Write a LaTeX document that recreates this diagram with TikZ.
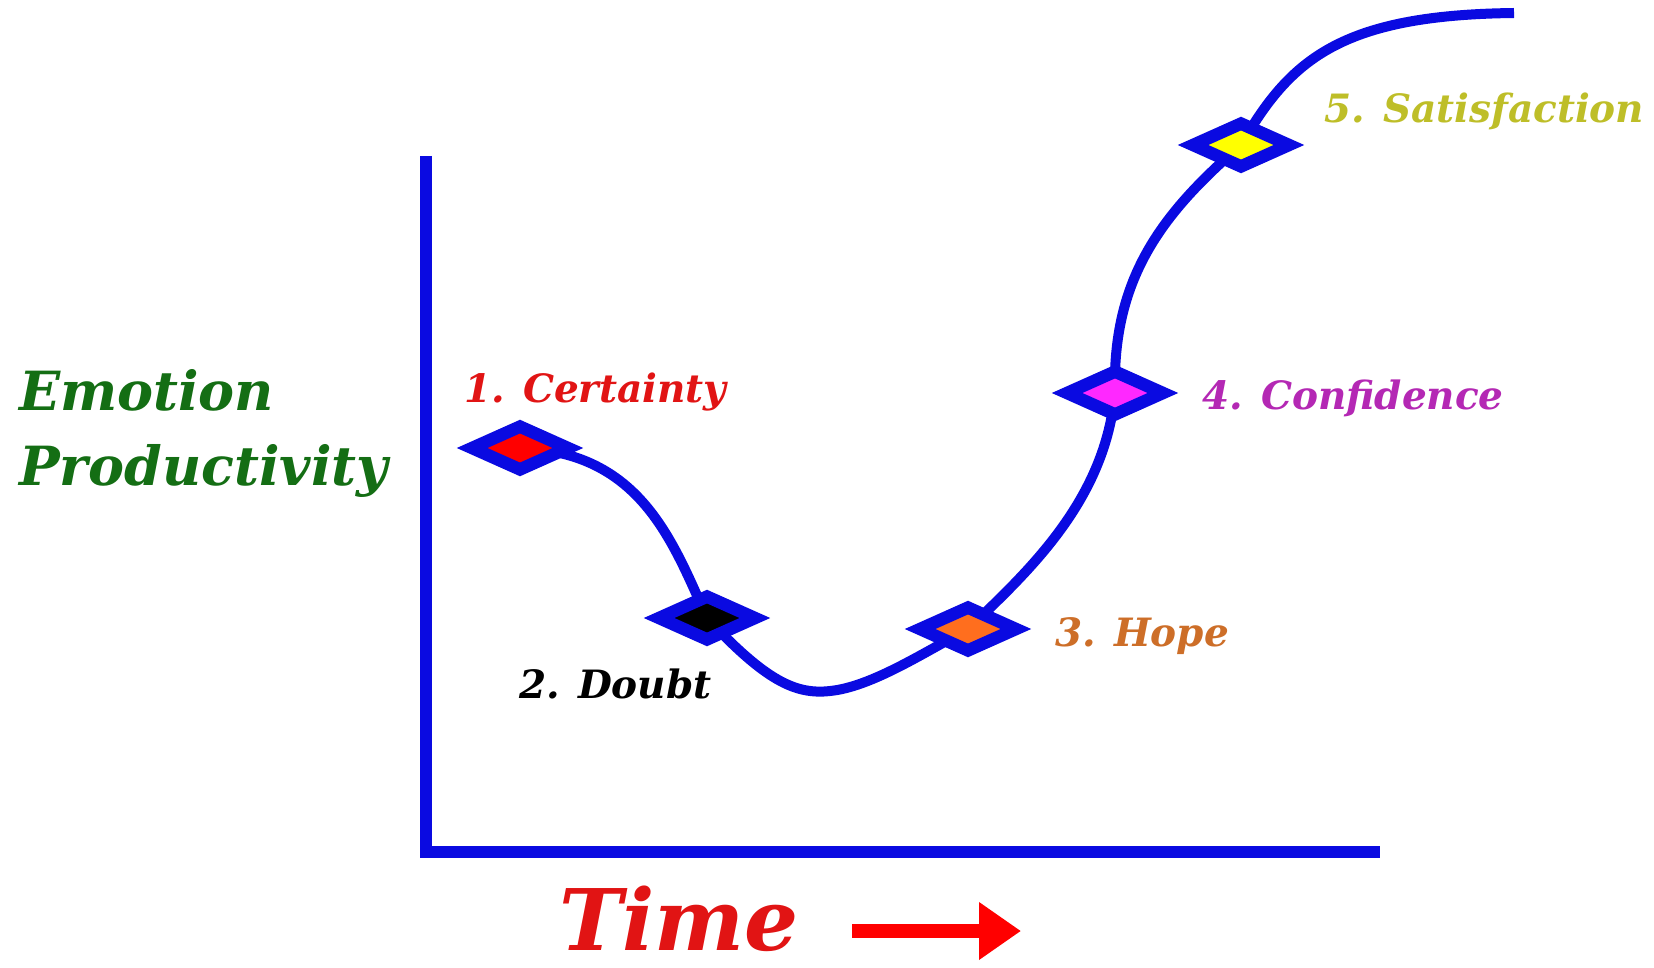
\documentclass[tikz,border=0pt]{standalone}
\usepackage{fontspec}
\setmainfont{DejaVu Serif}
\usetikzlibrary{shapes.geometric,arrows.meta,backgrounds}
\definecolor{cblue}{RGB}{10,10,225}
\definecolor{cred}{RGB}{225,20,20}
\definecolor{fred}{RGB}{255,0,0}
\definecolor{forange}{RGB}{255,110,30}
\definecolor{torange}{RGB}{205,110,40}
\definecolor{fmag}{RGB}{255,40,255}
\definecolor{tmag}{RGB}{180,40,180}
\definecolor{fyel}{RGB}{255,255,0}
\definecolor{tyel}{RGB}{190,190,40}
\definecolor{cgreen}{RGB}{20,110,20}
\tikzset{
  mark box/.style={diamond, draw=cblue, line width=12.5pt, inner sep=0pt,
    minimum width=101pt, minimum height=48pt},
  ptlabel/.style={anchor=base west, inner sep=0pt,
    font=\bfseries\itshape\fontsize{39}{44}\selectfont},
  axlabel/.style={anchor=base west, inner sep=0pt, text=cgreen,
    font=\bfseries\itshape\fontsize{54}{60}\selectfont},
  curve/.style={draw=cblue, line width=10pt},
  axisline/.style={draw=cblue, line width=12pt}
}
\begin{document}
\begin{tikzpicture}[x=1pt,y=-1pt]
\useasboundingbox (0,0) rectangle (1654,968);
% axes
\coordinate (ytop) at (426,156);
\coordinate (orig) at (426,852);
\coordinate (xend) at (1380,852);
\draw[axisline] (ytop) -- (orig) -- (xend);
% markers
\node[mark box, fill=fred]    (d1) at (520,448) {};
\node[mark box, fill=black]   (d2) at (707,618) {};
\node[mark box, fill=forange] (d3) at (968,629) {};
\node[mark box, fill=fmag]    (d4) at (1115,393) {};
\node[mark box, fill=fyel]    (d5) at (1241,145) {};
\coordinate (cend) at (1514,13);
\begin{pgfonlayer}{background}
\fill[white] (0,0) rectangle (1654,968);
\draw[curve] (d1.center) .. controls (640,452) and (672,540) .. (d2.center)
  .. controls (765,680) and (795,695) .. (830,691)
  .. controls (870,687) and (920,655) .. (d3.center)
  .. controls (1030,570) and (1105,500) .. (d4.center)
  .. controls (1112,280) and (1160,215) .. (d5.center)
  .. controls (1290,60) and (1340,15) .. (cend);
\end{pgfonlayer}
% labels
\node[ptlabel, text=cred]   (l1) at (464,402) {1. Certainty};
\node[ptlabel, text=black]  (l2) at (519,698) {2. Doubt};
\node[ptlabel, text=torange](l3) at (1055,646) {3. Hope};
\node[ptlabel, text=tmag]   (l4) at (1202,409) {4. Confidence};
\node[ptlabel, text=tyel]   (l5) at (1324,123) {5. Satisfaction};
\node[axlabel] (em) at (19,410) {Emotion};
\node[axlabel] (pr) at (19,485) {Productivity};
\node[anchor=base west, inner sep=0pt, text=cred, text depth=0pt,
  font=\bfseries\itshape\fontsize{85}{90}\selectfont] (time) at (559,950) {Time};
\coordinate (ta) at (852,931);
\coordinate (tb) at (1021,931);
\draw[draw=fred, line width=14pt, -{Triangle[length=42pt,width=55pt]}] (ta) -- (tb);
\end{tikzpicture}
\end{document}
